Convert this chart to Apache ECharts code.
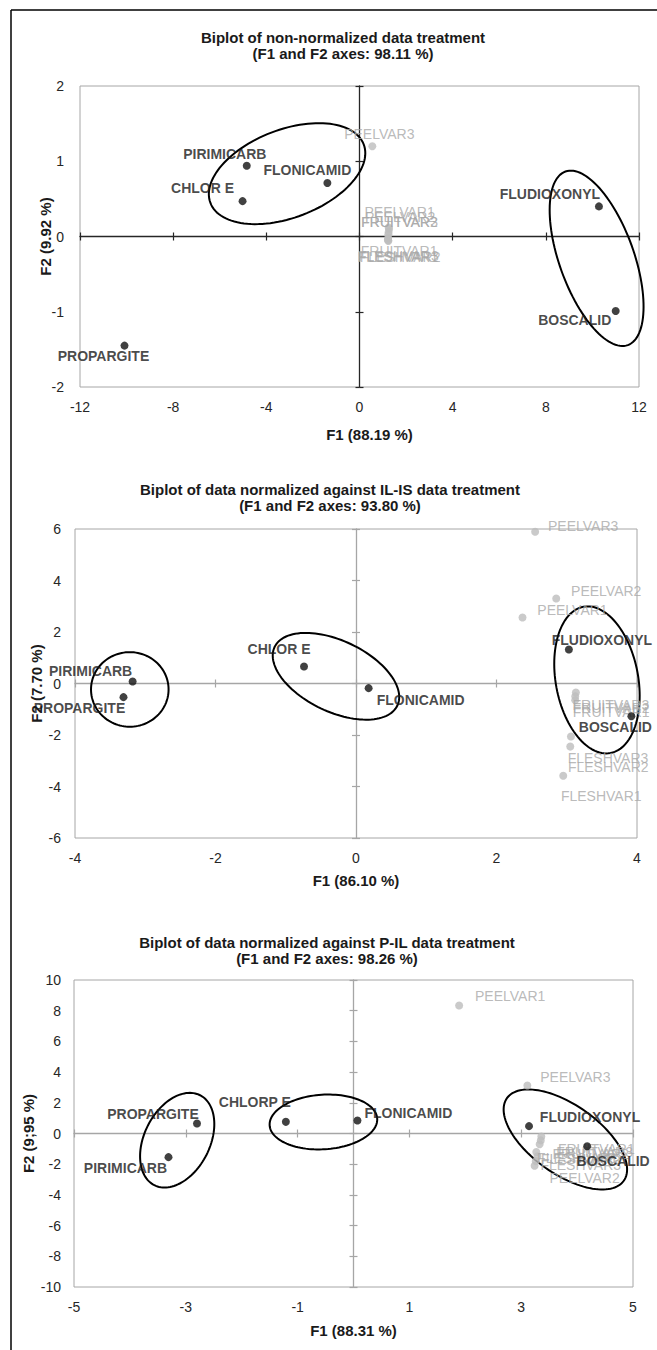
<!DOCTYPE html>
<html><head><meta charset="utf-8">
<script src="https://cdn.jsdelivr.net/npm/echarts@6/dist/echarts.min.js"></script>
<style>html,body{margin:0;padding:0;background:#fff}#c{width:657px;height:1350px}</style>
</head><body><div id="c"></div>
<script>
// ===================== DATA =====================
// ---- Chart 1: non-normalized
const c1Title = ['Biplot of non-normalized data treatment', '(F1 and F2 axes: 98.11 %)'];
const c1XName = 'F1 (88.19 %)';
const c1YName = 'F2 (9.92 %)';
const c1XTicks = [-12, -8, -4, 0, 4, 8, 12];
const c1YTicks = [-2, -1, 0, 1, 2];
const c1ActiveNames = ['PIRIMICARB', 'FLONICAMID', 'CHLOR E', 'FLUDIOXONYL', 'BOSCALID', 'PROPARGITE'];
const c1ActiveF1 = [-4.84, -1.38, -5.02, 10.28, 11.0, -10.09];
const c1ActiveF2 = [0.94, 0.71, 0.47, 0.40, -0.99, -1.45];
const c1VarNames = ['PEELVAR3', 'PEELVAR1', 'PEELVAR2', 'FRUITVAR3', 'FRUITVAR2', 'FRUITVAR1', 'FLESHVAR1', 'FLESHVAR2', 'FLESHVAR3'];
const c1VarF1 = [0.55, 1.25, 1.27, 1.25, 1.24, 1.23, 1.22, 1.23, 1.24];
const c1VarF2 = [1.20, 0.12, 0.10, 0.06, 0.03, -0.02, -0.04, -0.05, -0.06];
// group ellipses: centre (F1,F2) and two conjugate semi-axis vectors in F1/F2 units
const c1Ellipses = [
  [-3.11, 0.835, 3.29, 0.39, -0.676, 0.546],
  [10.18, -0.29, 1.34, -1.153, 1.506, 0.168]
];

// ---- Chart 2: normalized against IL-IS
const c2Title = ['Biplot of data normalized against IL-IS data treatment', '(F1 and F2 axes: 93.80 %)'];
const c2XName = 'F1 (86.10 %)';
const c2YName = 'F2 (7.70 %)';
const c2XTicks = [-4, -2, 0, 2, 4];
const c2YTicks = [-6, -4, -2, 0, 2, 4, 6];
const c2ActiveNames = ['PIRIMICARB', 'PROPARGITE', 'CHLOR E', 'FLONICAMID', 'FLUDIOXONYL', 'BOSCALID'];
const c2ActiveF1 = [-3.18, -3.31, -0.74, 0.18, 3.03, 3.92];
const c2ActiveF2 = [0.08, -0.53, 0.66, -0.18, 1.32, -1.27];
const c2VarNames = ['PEELVAR3', 'PEELVAR2', 'PEELVAR1', 'FRUITVAR3', 'FRUITVAR2', 'FRUITVAR1', 'FLESHVAR3', 'FLESHVAR2', 'FLESHVAR1'];
const c2VarF1 = [2.55, 2.85, 2.37, 3.13, 3.12, 3.12, 3.06, 3.05, 2.95];
const c2VarF2 = [5.89, 3.30, 2.56, -0.35, -0.50, -0.65, -2.06, -2.45, -3.58];
const c2Ellipses = [
  [-3.22, -0.23, 0.552, 0, 0, 1.447],
  [-0.285, 0.28, 0.874, -1.136, 0.216, 1.245],
  [3.43, 0.14, 0.192, -2.84, 0.577, 0.292]
];

// ---- Chart 3: normalized against P-IL
const c3Title = ['Biplot of data normalized against P-IL data treatment', '(F1 and F2 axes: 98.26 %)'];
const c3XName = 'F1 (88.31 %)';
const c3YName = 'F2 (9;95 %)';
const c3XTicks = [-5, -3, -1, 1, 3, 5];
const c3YTicks = [-10, -8, -6, -4, -2, 0, 2, 4, 6, 8, 10];
const c3ActiveNames = ['PROPARGITE', 'PIRIMICARB', 'CHLORP E', 'FLONICAMID', 'FLUDIOXONYL', 'BOSCALID'];
const c3ActiveF1 = [-2.80, -3.31, -1.21, 0.07, 3.14, 4.18];
const c3ActiveF2 = [0.65, -1.54, 0.76, 0.85, 0.48, -0.83];
const c3VarNames = ['PEELVAR1', 'PEELVAR3', 'PEELVAR2', 'FRUITVAR1', 'FRUITVAR2', 'FRUITVAR3', 'FLESHVAR1', 'FLESHVAR2', 'FLESHVAR3'];
const c3VarF1 = [1.89, 3.11, 3.24, 3.36, 3.35, 3.33, 3.29, 3.27, 3.26];
const c3VarF2 = [8.34, 3.13, -2.10, -0.20, -0.45, -0.70, -1.48, -1.20, -1.80];
const c3Ellipses = [
  [-3.154, -0.436, 0.409, 2.93, -0.523, 0.962],
  [-0.538, 0.75, 0.962, 0.22, -0.031, 1.774],
  [3.79, -0.39, 1.045, -2.69, 0.357, 1.84]
];

// ===================== LABEL PLACEMENT (px offsets from point) =====================
const c1ActiveLabelOffsets = [[-22, -12], [-20, -13], [-40, -13], [-49, -12], [-41, 9], [-21, 10]];
const c1VarLabelOffsets = [[7, -12], [11, -15], [11, -12], [11, -10], [11, -12], [11, 13], [10, 17], [12, 17], [10, 15]];
const c2ActiveLabelOffsets = [[-42, -10], [-44, 11], [-25, -18], [52, 12], [33, -10], [-16, 11]];
const c2VarLabelOffsets = [[48, -6], [50, -8], [50, -8], [35, 12], [36, 12], [36, 12], [37, 21], [38, 20], [38, 20]];
const c3ActiveLabelOffsets = [[-44, -10], [-43, 11], [-31, -20], [51, -7], [61, -9], [26, 15]];
const c3VarLabelOffsets = [[51, -9], [48, -8], [50, 12], [55, 12], [50, 14], [55, 8], [40, 2], [45, 7], [45, 4]];

// ===================== STYLE / LAYOUT =====================
const FONT = 'Liberation Sans, Arial, Helvetica, sans-serif';
const charts = [
  { title: c1Title, titleX: 343, titleY: 37, xName: c1XName, yName: c1YName, xTicks: c1XTicks, yTicks: c1YTicks,
    aN: c1ActiveNames, aX: c1ActiveF1, aY: c1ActiveF2, aO: c1ActiveLabelOffsets,
    vN: c1VarNames, vX: c1VarF1, vY: c1VarF2, vO: c1VarLabelOffsets, ell: c1Ellipses,
    grid: { left: 80, top: 86, width: 559, height: 301 }, zeroColor: '#262626', xNameGap: 40, yNameGap: 27, xNamePad: 20, yLabelMargin: 16 },
  { title: c2Title, titleX: 330, titleY: 489, xName: c2XName, yName: c2YName, xTicks: c2XTicks, yTicks: c2YTicks,
    aN: c2ActiveNames, aX: c2ActiveF1, aY: c2ActiveF2, aO: c2ActiveLabelOffsets,
    vN: c2VarNames, vX: c2VarF1, vY: c2VarF2, vO: c2VarLabelOffsets, ell: c2Ellipses,
    grid: { left: 75, top: 529, width: 562, height: 309 }, zeroColor: '#a6a6a6', xNameGap: 35, yNameGap: 31, xNamePad: 0, yLabelMargin: 14 },
  { title: c3Title, titleX: 327, titleY: 942, xName: c3XName, yName: c3YName, xTicks: c3XTicks, yTicks: c3YTicks,
    aN: c3ActiveNames, aX: c3ActiveF1, aY: c3ActiveF2, aO: c3ActiveLabelOffsets,
    vN: c3VarNames, vX: c3VarF1, vY: c3VarF2, vO: c3VarLabelOffsets, ell: c3Ellipses,
    grid: { left: 74, top: 980, width: 559, height: 307 }, zeroColor: '#a6a6a6', xNameGap: 36, yNameGap: 38, xNamePad: 0, yLabelMargin: 13 }
];

const grids = [], xAxes = [], yAxes = [], series = [], graphics = [];

function range(t) { return { min: t[0], max: t[t.length - 1], interval: t[1] - t[0] }; }

charts.forEach(function (c, g) {
  grids.push(Object.assign({ show: true, borderColor: '#a6a6a6', borderWidth: 1, backgroundColor: 'transparent',
    containLabel: false, outerBoundsMode: 'none' }, c.grid));
  const xr = range(c.xTicks), yr = range(c.yTicks);
  const base = g * 3;
  const tickStyle = { show: true, length: 4, lineStyle: { color: c.zeroColor, width: 1.2 } };
  // label axes (bottom / left, at plot border)
  xAxes.push(Object.assign({ gridIndex: g, type: 'value', position: 'bottom',
    axisLine: { show: false, onZero: false }, axisTick: { show: false }, splitLine: { show: false },
    axisLabel: { show: true, fontSize: 14, color: '#262626', fontFamily: FONT, margin: 13, showMinLabel: true, showMaxLabel: true },
    name: c.xName, nameLocation: 'middle', nameGap: c.xNameGap, nameMoveOverlap: false,
    nameTextStyle: { fontSize: 15, fontWeight: 'bold', color: '#1a1a1a', fontFamily: FONT, padding: [0, 0, 0, c.xNamePad] }
  }, xr));
  // zero line with ticks down
  xAxes.push(Object.assign({ gridIndex: g, type: 'value', position: 'bottom',
    axisLine: { show: true, onZero: true, onZeroAxisIndex: base, lineStyle: { color: c.zeroColor, width: 1.3 } },
    axisTick: tickStyle, axisLabel: { show: false }, splitLine: { show: false } }, xr));
  // zero line ticks up
  xAxes.push(Object.assign({ gridIndex: g, type: 'value', position: 'top',
    axisLine: { show: false, onZero: true, onZeroAxisIndex: base },
    axisTick: tickStyle, axisLabel: { show: false }, splitLine: { show: false } }, xr));

  yAxes.push(Object.assign({ gridIndex: g, type: 'value', position: 'left',
    axisLine: { show: false, onZero: false }, axisTick: { show: false }, splitLine: { show: false },
    axisLabel: { show: true, fontSize: 14, color: '#262626', fontFamily: FONT, margin: c.yLabelMargin, showMinLabel: true, showMaxLabel: true },
    name: c.yName, nameLocation: 'middle', nameGap: c.yNameGap, nameMoveOverlap: false,
    nameTextStyle: { fontSize: 15, fontWeight: 'bold', color: '#1a1a1a', fontFamily: FONT }
  }, yr));
  yAxes.push(Object.assign({ gridIndex: g, type: 'value', position: 'left',
    axisLine: { show: true, onZero: true, onZeroAxisIndex: base, lineStyle: { color: c.zeroColor, width: 1.3 } },
    axisTick: tickStyle, axisLabel: { show: false }, splitLine: { show: false } }, yr));
  yAxes.push(Object.assign({ gridIndex: g, type: 'value', position: 'right',
    axisLine: { show: false, onZero: true, onZeroAxisIndex: base },
    axisTick: tickStyle, axisLabel: { show: false }, splitLine: { show: false } }, yr));

  // ellipses
  series.push({
    type: 'custom', xAxisIndex: base, yAxisIndex: base, clip: false, silent: true, z: 3,
    dimensions: ['cx', 'cy', 'ux', 'uy', 'vx', 'vy'], encode: { x: 0, y: 1 },
    data: c.ell,
    renderItem: function (params, api) {
      const cx = api.value(0), cy = api.value(1), ux = api.value(2), uy = api.value(3), vx = api.value(4), vy = api.value(5);
      const pts = [];
      for (let i = 0; i < 120; i++) {
        const t = i / 120 * Math.PI * 2, ct = Math.cos(t), st = Math.sin(t);
        pts.push(api.coord([cx + ct * ux + st * vx, cy + ct * uy + st * vy]));
      }
      return { type: 'polygon', shape: { points: pts }, style: { fill: 'none', stroke: '#000', lineWidth: 2 } };
    }
  });
  // variables (grey)
  series.push({
    type: 'scatter', xAxisIndex: base, yAxisIndex: base, symbolSize: 8, z: 4,
    itemStyle: { color: '#bdbdbd' },
    data: c.vN.map(function (n, i) {
      return { name: n, value: [c.vX[i], c.vY[i]],
        label: { show: true, position: 'inside', offset: c.vO[i], formatter: '{b}', align: 'center', verticalAlign: 'middle',
          fontSize: 14, color: '#a8a8a8', fontFamily: FONT } };
    })
  });
  // active substances (black)
  series.push({
    type: 'scatter', xAxisIndex: base, yAxisIndex: base, symbolSize: 8, z: 5,
    itemStyle: { color: '#111' },
    data: c.aN.map(function (n, i) {
      return { name: n, value: [c.aX[i], c.aY[i]],
        label: { show: true, position: 'inside', offset: c.aO[i], formatter: '{b}', align: 'center', verticalAlign: 'middle',
          fontSize: 14, fontWeight: 'bold', color: '#1a1a1a', fontFamily: FONT } };
    })
  });
  // titles
  graphics.push({ type: 'text', x: c.titleX, y: c.titleY, style: { text: c.title[0], align: 'center', verticalAlign: 'middle',
    font: 'bold 15px ' + FONT, fill: '#1a1a1a' } });
  graphics.push({ type: 'text', x: c.titleX, y: c.titleY + 16, style: { text: c.title[1], align: 'center', verticalAlign: 'middle',
    font: 'bold 15px ' + FONT, fill: '#1a1a1a' } });
});

// outer frame
graphics.push({ type: 'line', shape: { x1: 11, y1: 10, x2: 11, y2: 1350 }, style: { stroke: '#000', lineWidth: 1.5 } });
graphics.push({ type: 'line', shape: { x1: 11, y1: 10, x2: 657, y2: 10 }, style: { stroke: '#000', lineWidth: 1.5 } });

const chart = echarts.init(document.getElementById('c'), null, { renderer: 'svg' });
chart.setOption({
  animation: false,
  backgroundColor: '#fff',
  grid: grids, xAxis: xAxes, yAxis: yAxes, series: series, graphic: graphics,
  tooltip: { show: false }
});
</script></body></html>
